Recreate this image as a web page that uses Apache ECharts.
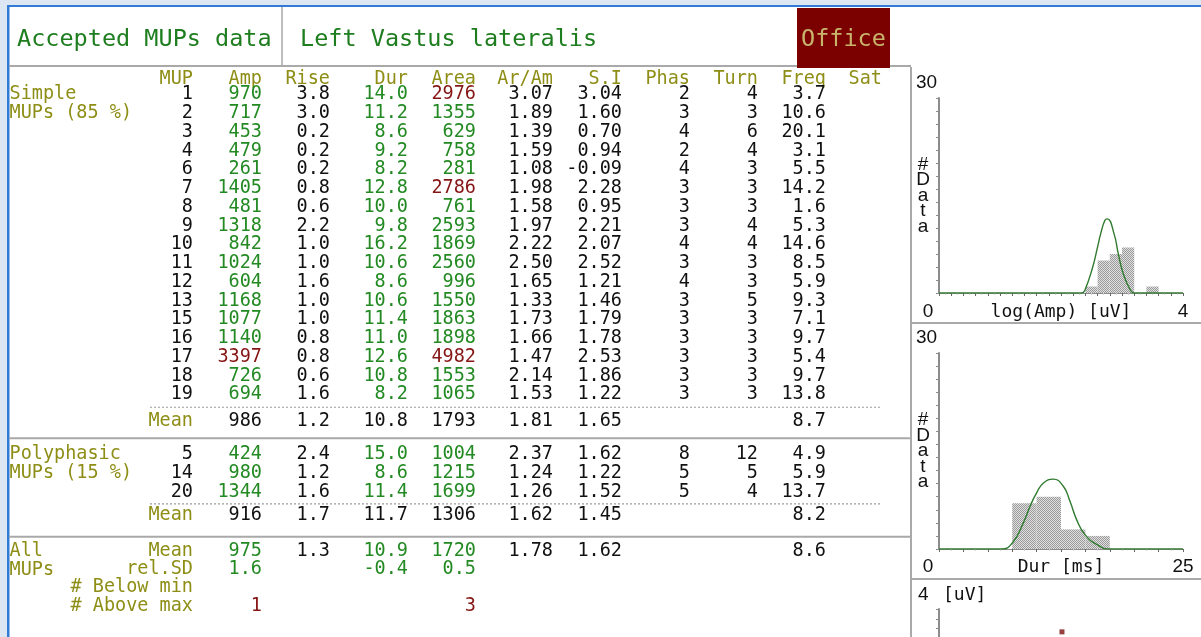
<!DOCTYPE html>
<html>
<head>
<meta charset="utf-8">
<title>Accepted MUPs data</title>
<script src="https://cdn.jsdelivr.net/npm/echarts@6/dist/echarts.min.js"></script>
<style>
  html, body { margin: 0; padding: 0; background: #dde6f3; }
  #chart { width: 1201px; height: 637px; }
</style>
</head>
<body>
<div id="chart"></div>
<script>
// ---------- MUP table ----------
const columns = ['MUP', 'Amp', 'Rise', 'Dur', 'Area', 'Ar/Am', 'S.I', 'Phas', 'Turn', 'Freq', 'Sat'];

const simpleMup  = [1, 2, 3, 4, 6, 7, 8, 9, 10, 11, 12, 13, 15, 16, 17, 18, 19];
const simpleAmp  = [970, 717, 453, 479, 261, 1405, 481, 1318, 842, 1024, 604, 1168, 1077, 1140, 3397, 726, 694];
const simpleRise = [3.8, 3.0, 0.2, 0.2, 0.2, 0.8, 0.6, 2.2, 1.0, 1.0, 1.6, 1.0, 1.0, 0.8, 0.8, 0.6, 1.6];
const simpleDur  = [14.0, 11.2, 8.6, 9.2, 8.2, 12.8, 10.0, 9.8, 16.2, 10.6, 8.6, 10.6, 11.4, 11.0, 12.6, 10.8, 8.2];
const simpleArea = [2976, 1355, 629, 758, 281, 2786, 761, 2593, 1869, 2560, 996, 1550, 1863, 1898, 4982, 1553, 1065];
const simpleArAm = [3.07, 1.89, 1.39, 1.59, 1.08, 1.98, 1.58, 1.97, 2.22, 2.50, 1.65, 1.33, 1.73, 1.66, 1.47, 2.14, 1.53];
const simpleSI   = [3.04, 1.60, 0.70, 0.94, -0.09, 2.28, 0.95, 2.21, 2.07, 2.52, 1.21, 1.46, 1.79, 1.78, 2.53, 1.86, 1.22];
const simplePhas = [2, 3, 4, 2, 4, 3, 3, 3, 4, 3, 4, 3, 3, 3, 3, 3, 3];
const simpleTurn = [4, 3, 6, 4, 3, 3, 3, 4, 4, 3, 3, 5, 3, 3, 3, 3, 3];
const simpleFreq = [3.7, 10.6, 20.1, 3.1, 5.5, 14.2, 1.6, 5.3, 14.6, 8.5, 5.9, 9.3, 7.1, 9.7, 5.4, 9.7, 13.8];

const polyMup  = [5, 14, 20];
const polyAmp  = [424, 980, 1344];
const polyRise = [2.4, 1.2, 1.6];
const polyDur  = [15.0, 8.6, 11.4];
const polyArea = [1004, 1215, 1699];
const polyArAm = [2.37, 1.24, 1.26];
const polySI   = [1.62, 1.22, 1.52];
const polyPhas = [8, 5, 5];
const polyTurn = [12, 5, 4];
const polyFreq = [4.9, 5.9, 13.7];

// summary rows, one entry per column (null = blank cell)
const simpleMean = [null, 986, 1.2, 10.8, 1793, 1.81, 1.65, null, null, 8.7, null];
const polyMean   = [null, 916, 1.7, 11.7, 1306, 1.62, 1.45, null, null, 8.2, null];
const allMean    = [null, 975, 1.3, 10.9, 1720, 1.78, 1.62, null, null, 8.6, null];
const allRelSD   = [null, 1.6, null, -0.4, 0.5, null, null, null, null, null, null];
const belowMin   = [null, null, null, null, null, null, null, null, null, null, null];
const aboveMax   = [null, 1, null, null, 3, null, null, null, null, null, null];

// MUPs whose value lies above the normal maximum
const ampAboveMax  = [17];
const areaAboveMax = [1, 7, 17];

// ---------- histograms ----------
const ampBinStart = [2.4, 2.6, 2.8, 3.0, 3.4];
const ampCounts   = [1, 5, 6, 7, 1];
const ampBinWidth = 0.2;
const ampCurveX = [0, 2.34, 2.39, 2.52, 2.60, 2.65, 2.72, 2.76, 2.87, 2.94, 3.02, 3.14, 3.20, 4];
const ampCurveY = [0, 0, 0.4, 4.0, 7.1, 9.1, 11.2, 11.4, 9.1, 6.0, 3.0, 0.4, 0, 0];

const durBinStart = [7.5, 10, 12.5, 15];
const durCounts   = [7, 8, 3, 2];
const durBinWidth = 2.5;
const durCurveX = [0, 6.4, 7.55, 8.64, 9.32, 10.0, 10.7, 11.7, 12.74, 13.42, 14.1, 14.96, 16.16, 17.5, 25];
const durCurveY = [0, 0, 1.0, 4.0, 6.5, 8.6, 10.1, 10.7, 9.6, 7.3, 4.5, 2.2, 0.7, 0, 0];

// ---------- styling / layout ----------
const C_GREEN = '#238a23';
const C_TITLE = '#1e7d1e';
const C_RED = '#861515';
const C_OLIVE = '#8e8e16';
const C_BLACK = '#111111';
const C_RULE = '#a9a9a9';
const MONO = '"DejaVu Sans Mono", monospace';
const SANS = '"Liberation Sans", Arial, sans-serif';

const colRight = [184, 253, 321, 399, 467, 544, 613, 681, 749, 817, 873]; // right edge of each column (px from table edge)
const decimals = [0, 0, 1, 1, 0, 2, 2, 0, 0, 1, 0];
const relSDDecimals = 1;
const rangeCols = [1, 3, 4];            // Amp, Dur and Area are checked against normal limits
const labelLeft = 0.5;
const dotLeft = 141, dotRight = 873, tableWidth = 902;
const ROW = 18.75;                      // row pitch in px, table y-units are rows

function fmt(v, c, d) { return v == null ? '' : Number(v).toFixed(d == null ? decimals[c] : d); }

const tableCells = [];
const tableRules = [];
function cell(x, y, text, color, align) { tableCells.push({ x, y, text, color, align }); }

// header line
columns.forEach((name, c) => cell(colRight[c], 0.67, name, C_OLIVE, 'right'));

function dataRows(y0, cols) {
  const mups = cols[0];
  mups.forEach((m, i) => {
    cols.forEach((arr, c) => {
      let color = C_BLACK;
      if (rangeCols.includes(c)) color = C_GREEN;
      if (c === 1 && ampAboveMax.includes(m)) color = C_RED;
      if (c === 4 && areaAboveMax.includes(m)) color = C_RED;
      cell(colRight[c], y0 + i, fmt(arr[i], c), color, 'right');
    });
  });
  return y0 + mups.length - 1;
}
function summaryRow(y, label, values, colorFor, d) {
  cell(colRight[0], y, label, C_OLIVE, 'right');
  values.forEach((v, c) => { if (v != null && c > 0) cell(colRight[c], y, fmt(v, c, d), colorFor(c), 'right'); });
}

const total = simpleMup.length + polyMup.length;
const pct = n => Math.round(100 * n / total);

// simple MUPs
let y = 1.5;
cell(labelLeft, y, 'Simple', C_OLIVE, 'left');
cell(labelLeft, y + 1, 'MUPs (' + pct(simpleMup.length) + ' %)', C_OLIVE, 'left');
let last = dataRows(y, [simpleMup, simpleAmp, simpleRise, simpleDur, simpleArea, simpleArAm, simpleSI, simplePhas, simpleTurn, simpleFreq]);
tableRules.push({ x0: dotLeft, x1: dotRight, y: last + 0.7, dotted: true });
y = last + 1.4;
summaryRow(y, 'Mean', simpleMean, () => C_BLACK);
tableRules.push({ x0: 0, x1: tableWidth, y: y + 0.95, dotted: false });

// polyphasic MUPs
y = y + 1.8;
cell(labelLeft, y, 'Polyphasic', C_OLIVE, 'left');
cell(labelLeft, y + 1, 'MUPs (' + pct(polyMup.length) + ' %)', C_OLIVE, 'left');
last = dataRows(y, [polyMup, polyAmp, polyRise, polyDur, polyArea, polyArAm, polySI, polyPhas, polyTurn, polyFreq]);
tableRules.push({ x0: dotLeft, x1: dotRight, y: last + 0.65, dotted: true });
y = last + 1.25;
summaryRow(y, 'Mean', polyMean, () => C_BLACK);
tableRules.push({ x0: 0, x1: tableWidth, y: y + 1.15, dotted: false });

// all MUPs
y = y + 1.9;
cell(labelLeft, y, 'All', C_OLIVE, 'left');
cell(labelLeft, y + 1, 'MUPs', C_OLIVE, 'left');
summaryRow(y, 'Mean', allMean, c => rangeCols.includes(c) ? C_GREEN : C_BLACK);
summaryRow(y + 0.95, 'rel.SD', allRelSD, () => C_GREEN, relSDDecimals);
summaryRow(y + 1.95, '# Below min', belowMin, () => C_RED);
summaryRow(y + 2.95, '# Above max', aboveMax, () => C_RED);

// stippled fill for histogram bars
const stipple = document.createElement('canvas');
stipple.width = 2; stipple.height = 2;
(function () {
  const g = stipple.getContext('2d');
  g.fillStyle = '#e0e0e0'; g.fillRect(0, 0, 2, 2);
  g.fillStyle = '#9a9a9a'; g.fillRect(0, 0, 1, 1); g.fillRect(1, 1, 1, 1);
})();
const barFill = { image: stipple, repeat: 'repeat' };

function binRender(params, api) {
  const p0 = api.coord([api.value(0), api.value(2)]);
  const p1 = api.coord([api.value(1), 0]);
  return { type: 'rect', shape: { x: p0[0], y: p0[1], width: p1[0] - p0[0], height: p1[1] - p0[1] }, style: { fill: barFill } };
}
const zip = (xs, ys) => xs.map((x, i) => [x, ys[i]]);

// shared axis styles for the right-hand panels
const numFont = { fontFamily: SANS, fontSize: 19, color: '#111' };
function countAxis(grid) {
  return {
    gridIndex: grid, type: 'value', min: 0, max: 30, interval: 2,
    axisLine: { show: true, lineStyle: { color: '#8c8c8c', width: 2 } },
    axisTick: { show: true, length: 3, lineStyle: { color: '#8c8c8c' } },
    splitLine: { show: false },
    axisLabel: {
      align: 'left', margin: 23,
      formatter: v => (v === 30 ? '{t|30}' : ''),
      rich: { t: Object.assign({ padding: [0, 0, 31, 0] }, numFont) }
    },
    name: '#\nD\na\nt\na', nameLocation: 'middle', nameRotate: 0, nameGap: 16, nameMoveOverlap: false,
    nameTextStyle: Object.assign({ align: 'center', verticalAlign: 'middle', lineHeight: 15.5, padding: [9, 0, 0, 0] }, numFont)
  };
}
function valueAxis(grid, max, interval, name, gap, margin) {
  return {
    gridIndex: grid, type: 'value', min: 0, max: max, interval: interval,
    axisLine: { show: true, lineStyle: { color: '#8c8c8c', width: 1 } },
    axisTick: { show: true, length: 3, lineStyle: { color: '#666' } },
    minorTick: { show: true, splitNumber: 2, length: 2, lineStyle: { color: '#d0d0d0' } },
    splitLine: { show: false },
    axisLabel: {
      margin: margin,
      formatter: v => (v === 0 ? '{z|0}' : Math.abs(v - max) < 1e-9 ? String(max) : ''),
      rich: { z: Object.assign({ padding: [0, 22, 0, 0] }, numFont) },
      fontFamily: SANS, fontSize: 19, color: '#111'
    },
    name: name, nameLocation: 'middle', nameGap: gap, nameMoveOverlap: false,
    nameTextStyle: { fontFamily: MONO, fontSize: 18, color: '#111', verticalAlign: 'top' }
  };
}

const allMup = simpleMup.concat(polyMup);
const allAmp = simpleAmp.concat(polyAmp);
const allDur = simpleDur.concat(polyDur);

const chart = echarts.init(document.getElementById('chart'), null, { renderer: 'canvas' });
chart.setOption({
  animation: false,
  backgroundColor: '#dde6f3',
  graphic: [
    { type: 'rect', z: -10, silent: true, shape: { x: 9, y: 7, width: 1192, height: 630 }, style: { fill: '#ffffff' } },
    { type: 'rect', silent: true, shape: { x: 7, y: 5, width: 1194, height: 2 }, style: { fill: '#2f7bd6' } },
    { type: 'rect', silent: true, shape: { x: 7, y: 5, width: 2.5, height: 632 }, style: { fill: '#2f7bd6' } },
    { type: 'line', silent: true, shape: { x1: 9, y1: 66, x2: 911, y2: 66 }, style: { stroke: C_RULE, lineWidth: 2 } },
    { type: 'line', silent: true, shape: { x1: 282, y1: 7, x2: 282, y2: 66 }, style: { stroke: C_RULE, lineWidth: 1.5 } },
    { type: 'rect', silent: true, shape: { x: 797, y: 8, width: 93, height: 60 }, style: { fill: '#7b0000' } },
    { type: 'line', silent: true, shape: { x1: 911, y1: 67, x2: 911, y2: 637 }, style: { stroke: C_RULE, lineWidth: 2 } },
    { type: 'line', silent: true, shape: { x1: 911, y1: 323, x2: 1201, y2: 323 }, style: { stroke: C_RULE, lineWidth: 2 } },
    { type: 'line', silent: true, shape: { x1: 911, y1: 579, x2: 1201, y2: 579 }, style: { stroke: C_RULE, lineWidth: 2 } }
  ],
  title: [
    { text: 'Accepted MUPs data', left: 17, top: 26, padding: 0,
      textStyle: { color: C_TITLE, fontFamily: MONO, fontSize: 23.5, fontWeight: 'normal', lineHeight: 28 } },
    { text: 'Left Vastus lateralis', left: 300, top: 26, padding: 0,
      textStyle: { color: C_TITLE, fontFamily: MONO, fontSize: 23.5, fontWeight: 'normal', lineHeight: 28 } },
    { text: 'Office', left: 801, top: 26, padding: 0,
      textStyle: { color: '#c9b46c', fontFamily: MONO, fontSize: 23.5, fontWeight: 'normal', lineHeight: 28 } }
  ],
  grid: [
    { left: 9, top: 66, width: 902, height: 571, outerBoundsMode: 'none' },      // table
    { left: 939, top: 98, width: 244, height: 195, outerBoundsMode: 'none' },    // log(Amp) histogram
    { left: 939, top: 353, width: 244, height: 196, outerBoundsMode: 'none' },   // duration histogram
    { left: 939, top: 609, width: 244, height: 195, outerBoundsMode: 'none' }    // amplitude vs duration
  ],
  xAxis: [
    { gridIndex: 0, type: 'value', min: 0, max: 902, show: false },
    valueAxis(1, 4, 0.2, 'log(Amp) [uV]', 10, 9),
    valueAxis(2, 25, 2.5, 'Dur [ms]', 9, 8),
    { gridIndex: 3, type: 'value', min: 0, max: 25, show: false }
  ],
  yAxis: [
    { gridIndex: 0, type: 'value', min: 0, max: 571 / ROW, inverse: true, show: false },
    countAxis(1),
    countAxis(2),
    {
      gridIndex: 3, type: 'value', min: 0, max: 4, interval: 0.2,
      axisLine: { show: true, lineStyle: { color: '#8c8c8c', width: 2 } },
      axisTick: { show: true, length: 3, lineStyle: { color: '#8c8c8c' } },
      splitLine: { show: false },
      axisLabel: {
        align: 'left', margin: 21,
        formatter: v => (Math.abs(v - 4) < 1e-9 ? '{t|4}' : ''),
        rich: { t: Object.assign({ padding: [0, 0, 28, 0] }, numFont) }
      },
      name: '[uV]', nameLocation: 'end', nameGap: 14, nameMoveOverlap: false,
      nameTextStyle: { fontFamily: MONO, fontSize: 18, color: '#111', align: 'left', verticalAlign: 'middle', padding: [0, 0, 0, 4] }
    }
  ],
  series: [
    {
      type: 'custom', name: 'table', xAxisIndex: 0, yAxisIndex: 0, clip: false, silent: true,
      data: tableCells.map(c => [c.x, c.y]),
      renderItem: (params, api) => {
        const c = tableCells[params.dataIndex];
        const p = api.coord([c.x, c.y]);
        return {
          type: 'text', x: p[0], y: p[1], scaleY: 1.07,
          style: {
            text: c.text, fill: c.color, font: '18.5px ' + MONO,
            align: c.align, verticalAlign: 'middle', textAlign: c.align, textVerticalAlign: 'middle'
          }
        };
      }
    },
    {
      type: 'custom', name: 'rules', xAxisIndex: 0, yAxisIndex: 0, clip: false, silent: true,
      data: tableRules.map(r => [r.x0, r.x1, r.y]),
      renderItem: (params, api) => {
        const r = tableRules[params.dataIndex];
        const a = api.coord([r.x0, r.y]);
        const b = api.coord([r.x1, r.y]);
        return {
          type: 'line', shape: { x1: a[0], y1: a[1], x2: b[0], y2: b[1] },
          style: r.dotted ? { stroke: '#9c9c9c', lineWidth: 1.2, lineDash: [2, 2] } : { stroke: C_RULE, lineWidth: 2 }
        };
      }
    },
    {
      type: 'custom', name: 'log(Amp)', xAxisIndex: 1, yAxisIndex: 1, silent: true,
      encode: { x: [0, 1], y: 2 },
      data: ampBinStart.map((b, i) => [b, b + ampBinWidth, ampCounts[i]]),
      renderItem: binRender
    },
    {
      type: 'line', xAxisIndex: 1, yAxisIndex: 1, silent: true, z: 3,
      data: zip(ampCurveX, ampCurveY), showSymbol: false, smooth: 0.5,
      lineStyle: { color: '#2f7a2f', width: 1.4 }
    },
    {
      type: 'custom', name: 'Dur', xAxisIndex: 2, yAxisIndex: 2, silent: true,
      encode: { x: [0, 1], y: 2 },
      data: durBinStart.map((b, i) => [b, b + durBinWidth, durCounts[i]]),
      renderItem: binRender
    },
    {
      type: 'line', xAxisIndex: 2, yAxisIndex: 2, silent: true, z: 3,
      data: zip(durCurveX, durCurveY), showSymbol: false, smooth: 0.5,
      lineStyle: { color: '#2f7a2f', width: 1.4 }
    },
    {
      type: 'scatter', xAxisIndex: 3, yAxisIndex: 3, silent: true, clip: false,
      symbol: 'rect', symbolSize: 5,
      data: allMup.map((m, i) => ({
        value: [allDur[i], Math.log10(allAmp[i])],
        itemStyle: { color: ampAboveMax.includes(m) ? '#7a0f0f' : C_GREEN }
      }))
    }
  ]
});
</script>
</body>
</html>
